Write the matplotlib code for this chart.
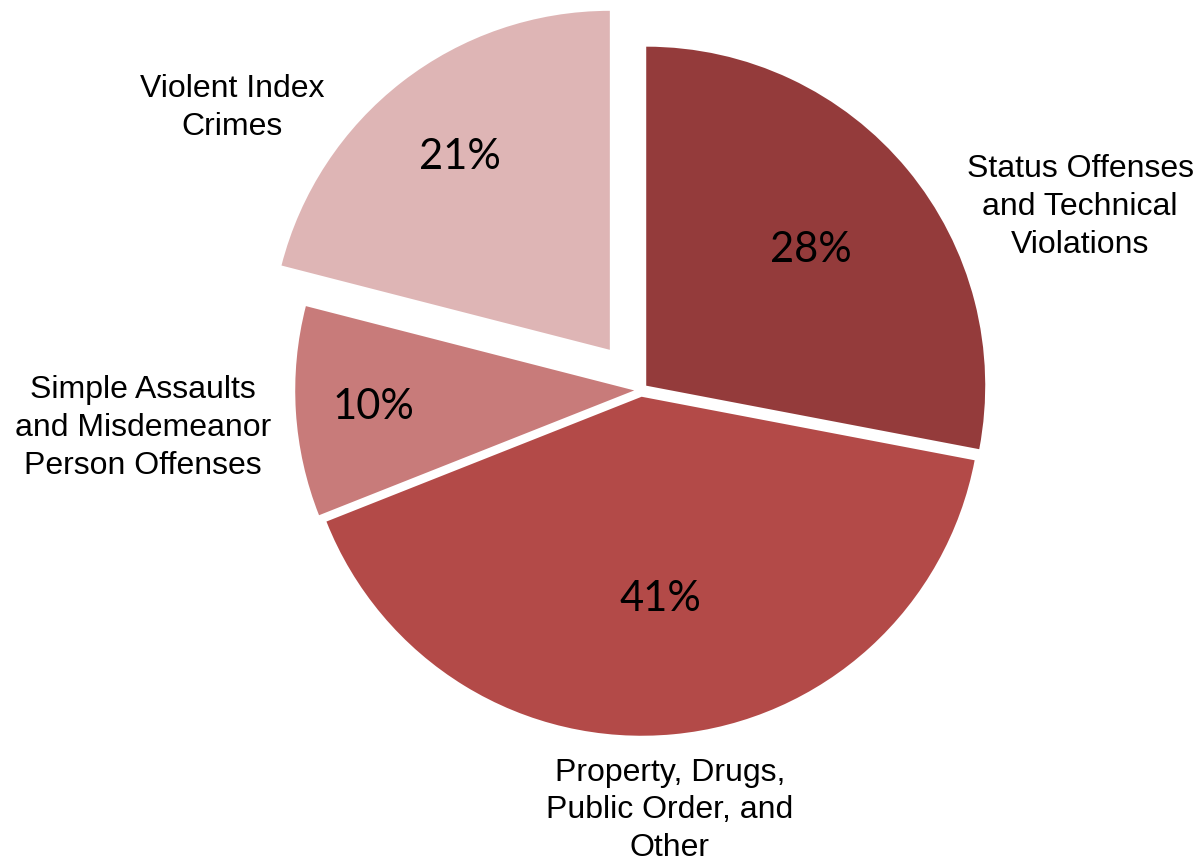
"""
Pie chart of offense categories (share of cases)
"""

import numpy as np
import matplotlib.pyplot as plt

# Data
Categories = ['Status Offenses\nand Technical\nViolations',
              'Property, Drugs,\nPublic Order, and\nOther',
              'Simple Assaults\nand Misdemeanor\nPerson Offenses',
              'Violent Index\nCrimes']
Shares = [28, 41, 10, 21]

# Style
Colors = ['#943B3B', '#B34A48', '#C87B7A', '#DEB5B5']
Explode = [0.02, 0.02, 0.02, 0.15]
Pct_Dist = [0.63, 0.60, 0.77, 0.72]
Label_Pos = [(1.295, 0.540), (0.085, -1.240), (-1.470, -0.112), (-1.206, 0.832)]

def Plot_Pie():

	fig = plt.figure(figsize=(11.99, 8.67), dpi=100)
	ax = fig.add_axes([0, 0, 1, 1])

	# Pie, clockwise from top
	Wedges, Texts, Autotexts = ax.pie(Shares, colors=Colors, explode=Explode, startangle=90,
		counterclock=False, autopct='%d%%', pctdistance=0.6, radius=1.0,
		wedgeprops={'linewidth': 0}, textprops={'family': 'Lato', 'fontsize': 30, 'color': 'k'})

	# Move percent labels
	for i, (w, t) in enumerate(zip(Wedges, Autotexts)):
		Ang = np.deg2rad((w.theta1 + w.theta2) / 2)
		Cx, Cy = w.center
		t.set_position((Cx + Pct_Dist[i] * np.cos(Ang), Cy + Pct_Dist[i] * np.sin(Ang)))

	# Category labels
	for i, i_Cat in enumerate(Categories):
		ax.text(Label_Pos[i][0], Label_Pos[i][1], i_Cat, ha='center', va='center',
			family='Liberation Sans', fontsize=23, linespacing=1.33)

	ax.set_aspect('auto')
	ax.set_xlim(-641 / 339, (1199 - 641) / 339)
	ax.set_ylim(-(867 - 390) / 339, 390 / 339)
	ax.axis('off')

	plt.savefig('out.png')
	plt.close('all')

if (__name__ == '__main__'):
	Plot_Pie()
